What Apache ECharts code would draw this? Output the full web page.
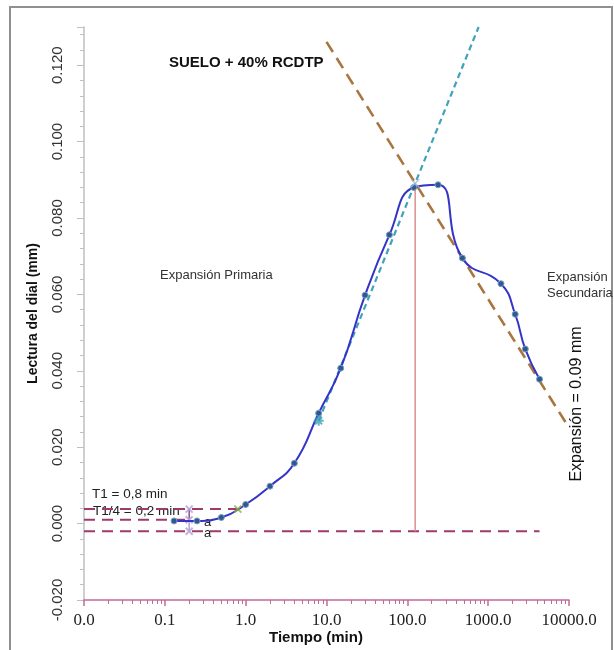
<!DOCTYPE html>
<html>
<head>
<meta charset="utf-8">
<script src="https://cdn.jsdelivr.net/npm/echarts@6/dist/echarts.min.js"></script>
<style>
  html, body { margin: 0; padding: 0; background: #fff; }
  #main { width: 614px; height: 650px; }
</style>
</head>
<body>
<div id="main"></div>
<script>
// lecturas del dial vs tiempo
const timeMin = [0.13, 0.25, 0.5, 1, 2, 4, 8, 15, 30, 60, 120, 240, 480, 1440, 2160, 2880, 4320];
const dialMm = [0.0007, 0.0007, 0.0016, 0.0050, 0.0098, 0.0158, 0.0289, 0.0407, 0.0598, 0.0756, 0.0880, 0.0887, 0.0695, 0.0628, 0.0548, 0.0457, 0.0378];

// tangentes
const primaryT = [8, 762];
const primaryD = [0.0269, 0.13];
const secondaryT = [10, 10000];
const secondaryD = [0.1261, 0.0251];

// interseccion (100% expansion primaria)
const crossT = 125;
const crossD = 0.0891;

// lineas de referencia
const levelT1 = 0.0038;   // T1 = 0,8 min
const levelT14 = 0.001;   // T1/4 = 0,2 min
const levelZero = -0.002;
const t1 = 0.8;
const t14 = 0.2;
const tStart = 0.01;
const tEnd = 4320;

const xTicks = ['0.0', '0.1', '1.0', '10.0', '100.0', '1000.0', '10000.0'];

const chartDom = document.getElementById('main');
const myChart = echarts.init(chartDom, null, { renderer: 'canvas' });

const sans = 'Liberation Sans, Arial, sans-serif';
const maroon = '#9e3a6c';
const pink = '#c4689a';

const xPath = 'path://M0,0L10,10M10,0L0,10';
const starPath = 'path://M5,0L5,10M0,5L10,5M1.5,1.5L8.5,8.5M8.5,1.5L1.5,8.5';

let option = {
    backgroundColor: '#fff',
    animation: false,
    grid: { left: 84, right: 45, top: 27, bottom: 50 },
    xAxis: {
        type: 'log',
        logBase: 10,
        min: 0.01,
        max: 10000,
        axisLine: { onZero: false, lineStyle: { color: pink, width: 1.5 } },
        axisTick: { show: true, length: 6, lineStyle: { color: pink, width: 1.5 } },
        minorTick: { show: true, splitNumber: 9, length: 4, lineStyle: { color: pink, width: 1 } },
        splitLine: { show: false },
        axisLabel: {
            margin: 12,
            fontFamily: 'Liberation Serif, serif',
            fontSize: 17,
            color: '#222',
            formatter: (v) => {
                const i = Math.round(Math.log10(v)) + 2;
                return xTicks[i] !== undefined ? xTicks[i] : v.toFixed(1);
            }
        }
    },
    yAxis: {
        type: 'value',
        min: -0.02,
        max: 0.13,
        interval: 0.02,
        name: 'Lectura del dial (mm)',
        nameLocation: 'middle',
        nameGap: 44,
        nameTextStyle: { fontFamily: sans, fontWeight: 'bold', fontSize: 14, color: '#111' },
        axisLine: { show: true, lineStyle: { color: '#bfbfbf', width: 1.5 } },
        axisTick: { show: true, length: 7, lineStyle: { color: '#bfbfbf' } },
        minorTick: { show: true, splitNumber: 5, length: 4, lineStyle: { color: '#bfbfbf' } },
        splitLine: { show: false },
        axisLabel: {
            rotate: 90,
            margin: 19,
            showMaxLabel: false,
            fontFamily: sans,
            fontSize: 15,
            color: '#333',
            formatter: (v) => v.toFixed(3)
        }
    },
    series: [
        {
            // T1 level
            type: 'line',
            data: [[tStart, levelT1], [t1, levelT1]],
            symbol: 'none',
            lineStyle: { color: maroon, width: 2, type: [11, 7] },
            z: 2
        },
        {
            type: 'line',
            data: [[tStart, levelT14], [t14, levelT14]],
            symbol: 'none',
            lineStyle: { color: maroon, width: 2, type: [11, 7] },
            z: 2
        },
        {
            type: 'line',
            data: [[tStart, levelZero], [tEnd, levelZero]],
            symbol: 'none',
            lineStyle: { color: maroon, width: 2, type: [11, 7] },
            z: 2
        },
        {
            // vertical at intersection
            type: 'line',
            data: [[crossT, crossD], [crossT, levelZero]],
            symbol: 'none',
            lineStyle: { color: '#d9908f', width: 1.5 },
            z: 2
        },
        {
            // tangente primaria
            type: 'line',
            data: primaryT.map((t, i) => [t, primaryD[i]]),
            symbol: 'none',
            lineStyle: { color: '#41a2ba', width: 2.2, type: [6, 4] },
            z: 3
        },
        {
            // tangente secundaria
            type: 'line',
            data: secondaryT.map((t, i) => [t, secondaryD[i]]),
            symbol: 'none',
            lineStyle: { color: '#a8763e', width: 2.6, type: [12, 7] },
            z: 3
        },
        {
            // a - a
            type: 'line',
            data: [[t14, levelT1], [t14, levelT14]],
            symbol: 'none',
            lineStyle: { color: '#8e4d97', width: 1.5 },
            z: 4
        },
        {
            type: 'line',
            data: [[t14, levelT14], [t14, levelZero]],
            symbol: 'none',
            lineStyle: { color: '#b9a0d8', width: 1.5 },
            z: 4
        },
        {
            type: 'scatter',
            data: [[t14, levelT1], [t14, levelT14], [t14, levelZero]],
            symbol: xPath,
            symbolSize: 7,
            itemStyle: { color: 'none', borderColor: '#b79fd6', borderWidth: 2 },
            z: 5
        },
        {
            // curva de expansion
            type: 'line',
            data: timeMin.map((t, i) => [t, dialMm[i]]),
            smooth: 0.5,
            symbol: 'circle',
            symbolSize: 6,
            lineStyle: { color: '#3434c8', width: 2 },
            itemStyle: { color: '#2d5a8e', borderColor: '#7a9cc6', borderWidth: 1 },
            z: 6
        },
        {
            type: 'scatter',
            data: [[t1, levelT1]],
            symbol: xPath,
            symbolSize: 7,
            itemStyle: { color: 'none', borderColor: '#8db33f', borderWidth: 2 },
            z: 7
        },
        {
            type: 'scatter',
            data: [[primaryT[0], primaryD[0]]],
            symbol: starPath,
            symbolSize: 10,
            itemStyle: { color: 'none', borderColor: '#3aa0b5', borderWidth: 2 },
            z: 7
        },
        {
            type: 'scatter',
            data: [[crossT, crossD]],
            symbol: xPath,
            symbolSize: 8,
            itemStyle: { color: 'none', borderColor: '#9fb4d0', borderWidth: 1.5 },
            z: 7
        }
    ],
    graphic: [
        {
            type: 'rect',
            z: -10,
            shape: { x: 10, y: 7, width: 602, height: 660 },
            style: { fill: 'none', stroke: '#909090', lineWidth: 2 }
        },
        {
            type: 'text', x: 169, y: 63,
            style: { text: 'SUELO + 40% RCDTP', font: 'bold 15px ' + sans, fill: '#111', verticalAlign: 'middle', textVerticalAlign: 'middle' }
        },
        {
            type: 'text', x: 160, y: 275,
            style: { text: 'Expansión Primaria', font: '13px ' + sans, fill: '#333', verticalAlign: 'middle', textVerticalAlign: 'middle' }
        },
        {
            type: 'text', x: 547, y: 277,
            style: { text: 'Expansión', font: '13px ' + sans, fill: '#333', verticalAlign: 'middle', textVerticalAlign: 'middle' }
        },
        {
            type: 'text', x: 547, y: 293,
            style: { text: 'Secundaria', font: '13px ' + sans, fill: '#333', verticalAlign: 'middle', textVerticalAlign: 'middle' }
        },
        {
            type: 'text', x: 577, y: 404, rotation: Math.PI / 2,
            style: { text: 'Expansión = 0.09 mm', font: '16px ' + sans, fill: '#111', align: 'center', textAlign: 'center', verticalAlign: 'middle', textVerticalAlign: 'middle' }
        },
        {
            type: 'text', x: 92, y: 494,
            style: { text: 'T1 = 0,8 min', font: '13.5px ' + sans, fill: '#222', verticalAlign: 'middle', textVerticalAlign: 'middle' }
        },
        {
            type: 'text', x: 93, y: 511,
            style: { text: 'T1/4 = 0,2 min', font: '13.5px ' + sans, fill: '#222', verticalAlign: 'middle', textVerticalAlign: 'middle' }
        },
        {
            type: 'text', x: 204, y: 522,
            style: { text: 'a', font: '13px ' + sans, fill: '#222', verticalAlign: 'middle', textVerticalAlign: 'middle' }
        },
        {
            type: 'text', x: 204, y: 533,
            style: { text: 'a', font: '13px ' + sans, fill: '#222', verticalAlign: 'middle', textVerticalAlign: 'middle' }
        },
        {
            type: 'text', x: 316, y: 638,
            style: { text: 'Tiempo (min)', font: 'bold 15px ' + sans, fill: '#111', align: 'center', textAlign: 'center', verticalAlign: 'middle', textVerticalAlign: 'middle' }
        }
    ]
};

myChart.setOption(option);
</script>
</body>
</html>
